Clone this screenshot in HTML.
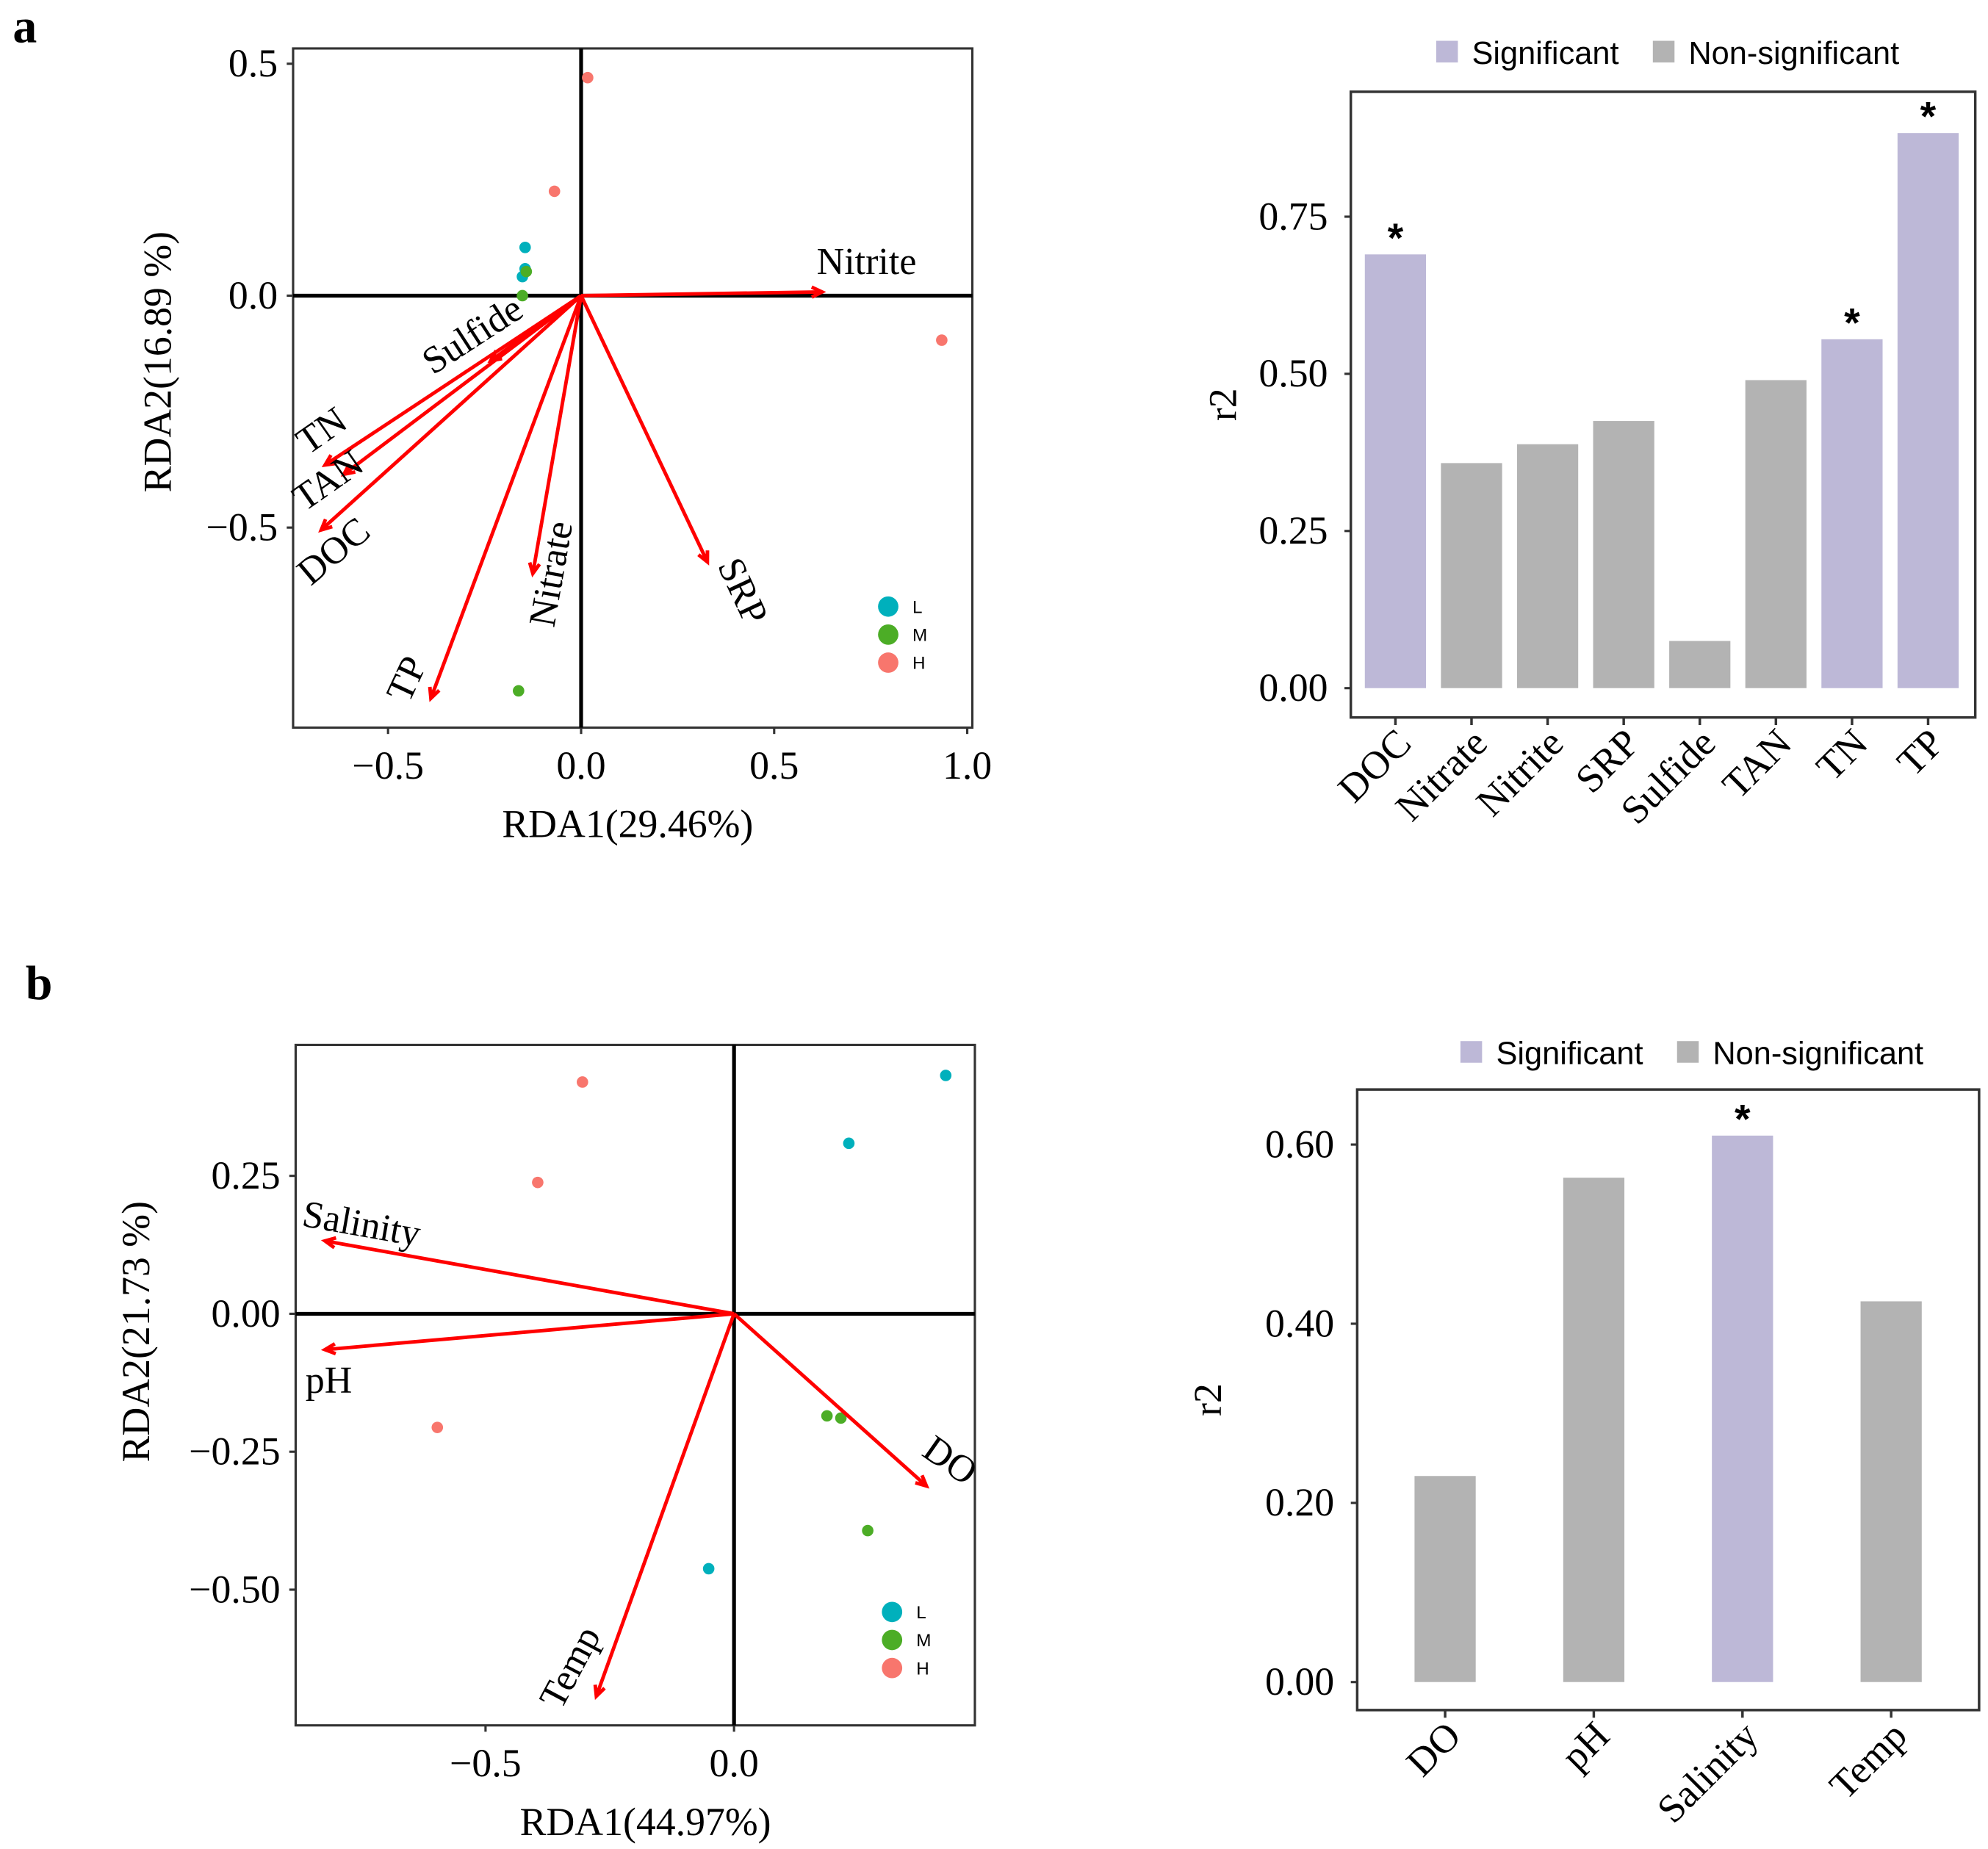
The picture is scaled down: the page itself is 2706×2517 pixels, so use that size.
<!DOCTYPE html>
<html><head><meta charset="utf-8"><style>
html,body{margin:0;padding:0;background:#fff}
svg{display:block}
.serif{font-family:"Liberation Serif",serif}
.sans{font-family:"Liberation Sans",sans-serif}
</style></head><body>
<svg id="fig" xmlns="http://www.w3.org/2000/svg" width="2706" height="2517" viewBox="0 0 1560 1451">
<text class="serif" x="10" y="33" font-size="38" font-weight="bold">a</text>
<text class="serif" x="20" y="784" font-size="38" font-weight="bold">b</text>
</svg>
<script>
// ---- Panel a RDA data ----
const aPointsX = [0.017,-0.069,0.934,-0.145,-0.145,-0.152,-0.142,-0.152,-0.162];
const aPointsY = [0.47,0.225,-0.096,0.104,0.058,0.041,0.052,0.0,-0.852];
const aPointsG = ['H','H','H','L','L','L','M','M','M'];
const aArrowNames = ['Nitrite','Sulfide','TN','TAN','DOC','TP','Nitrate','SRP'];
const aArrowX = [0.624,-0.234,-0.663,-0.614,-0.673,-0.389,-0.125,0.327];
const aArrowY = [0.008,-0.14,-0.365,-0.385,-0.505,-0.868,-0.599,-0.574];
const aXTicks = [-0.5,0.0,0.5,1.0];
const aXTickLabels = ['\u22120.5','0.0','0.5','1.0'];
const aYTicks = [0.5,0.0,-0.5];
const aYTickLabels = ['0.5','0.0','\u22120.5'];
// ---- Panel a bar data ----
const aBarCats = ['DOC','Nitrate','Nitrite','SRP','Sulfide','TAN','TN','TP'];
const aBarVals = [0.69,0.358,0.388,0.425,0.075,0.49,0.555,0.883];
const aBarSig = [true,false,false,false,false,false,true,true];
const aBarTicks = [0,0.25,0.5,0.75];
const aBarTickLabels = ['0.00','0.25','0.50','0.75'];
// ---- Panel b RDA data ----
const bPointsX = [-0.305,-0.395,-0.597,0.426,0.231,-0.051,0.187,0.215,0.269];
const bPointsY = [0.42,0.238,-0.206,0.432,0.309,-0.462,-0.185,-0.189,-0.393];
const bPointsG = ['H','H','H','L','L','L','M','M','M'];
const bArrowNames = ['Salinity','pH','DO','Temp'];
const bArrowX = [-0.823,-0.823,0.387,-0.277];
const bArrowY = [0.132,-0.065,-0.312,-0.693];
const bXTicks = [-0.5,0.0];
const bXTickLabels = ['\u22120.5','0.0'];
const bYTicks = [0.25,0,-0.25,-0.5];
const bYTickLabels = ['0.25','0.00','\u22120.25','\u22120.50'];
// ---- Panel b bar data ----
const bBarCats = ['DO','pH','Salinity','Temp'];
const bBarVals = [0.23,0.563,0.61,0.425];
const bBarSig = [false,false,true,false];
const bBarTicks = [0,0.2,0.4,0.6];
const bBarTickLabels = ['0.00','0.20','0.40','0.60'];

const NS='http://www.w3.org/2000/svg';
const svg=document.getElementById('fig');
const COL={L:'#00b0bc',M:'#4cad26',H:'#f8766d'};
function mk(tag,attrs,parent){const e=document.createElementNS(NS,tag);for(const k in attrs)e.setAttribute(k,attrs[k]);(parent||svg).appendChild(e);return e;}
function txt(s,attrs,parent){const e=mk('text',attrs,parent);e.textContent=s;return e;}

function rda(cfg){
  const g=mk('g',{});
  
  
  const sx=v=>cfg.ox+v*cfg.kx, sy=v=>cfg.oy-v*cfg.ky;
  const box=mk('rect',{x:cfg.x0,y:cfg.y0,width:cfg.x1-cfg.x0,height:cfg.y1-cfg.y0,fill:'none',stroke:'#333','stroke-width':1.8},g);
  
  
  const vl=mk('line',{x1:sx(0),x2:sx(0),y1:cfg.y0,y2:cfg.y1,stroke:'#000','stroke-width':3},g);
  
  
  const hl=mk('line',{x1:cfg.x0,x2:cfg.x1,y1:sy(0),y2:sy(0),stroke:'#000','stroke-width':3},g);
  
  
  cfg.xt.forEach((t,i)=>{
    mk('line',{x1:sx(t),x2:sx(t),y1:cfg.y1,y2:cfg.y1+5,stroke:'#333','stroke-width':1.8},g);
    const l=txt(cfg.xtl[i],{x:sx(t),y:cfg.y1+40,'font-size':31,'text-anchor':'middle',class:'serif'},g);
    
    
  });
  cfg.yt.forEach((t,i)=>{
    mk('line',{x1:cfg.x0-5,x2:cfg.x0,y1:sy(t),y2:sy(t),stroke:'#333','stroke-width':1.8},g);
    const l=txt(cfg.ytl[i],{x:cfg.x0-12,y:sy(t)+10,'font-size':31,'text-anchor':'end',class:'serif'},g);
    
    
  });
  const xl=txt(cfg.xlabel,{x:(cfg.x0+cfg.x1)/2-(cfg.xlo||0),y:cfg.y1+86,'font-size':31,'text-anchor':'middle',class:'serif'},g);
  
  
  const yl=txt(cfg.ylabel,{x:0,y:0,'font-size':31,'text-anchor':'middle',class:'serif',transform:`translate(${cfg.ylx},${cfg.yly}) rotate(-90)`},g);
  
  
  cfg.px.forEach((v,i)=>{
    const c=mk('circle',{cx:sx(v),cy:sy(cfg.py[i]),r:4.5,fill:COL[cfg.pg[i]]},g);
    
    
  });
  cfg.an.forEach((n,i)=>{
    const x2=sx(cfg.ax[i]),y2=sy(cfg.ay[i]),x1=sx(0),y1=sy(0);
    const ang=Math.atan2(y2-y1,x2-x1),h=9;
    const ag=mk('g',{},g);
    
    
    mk('line',{x1,y1,x2,y2,stroke:'#ff0000','stroke-width':2.8},ag);
    const a1=ang+Math.PI-0.45,a2=ang+Math.PI+0.45;
    mk('polyline',{points:`${x2+h*Math.cos(a1)},${y2+h*Math.sin(a1)} ${x2},${y2} ${x2+h*Math.cos(a2)},${y2+h*Math.sin(a2)}`,fill:'none',stroke:'#ff0000','stroke-width':2.8},ag);
    const L=cfg.labels[i];
    const t=txt(n,{x:0,y:0,'font-size':30,'text-anchor':'middle',class:'serif',transform:`translate(${L[0]},${L[1]}) rotate(${L[2]})`},ag);
    
    
  });
  ['L','M','H'].forEach((k,i)=>{
    const y=cfg.legY+i*22;
    const c=mk('circle',{cx:cfg.legX,cy:y,r:8,fill:COL[k]},g);
    
    
    const t=txt(k,{x:cfg.legX+19,y:y+5,'font-size':14,class:'sans'},g);
    
    
  });
}

function bars(cfg){
  const g=mk('g',{});
  
  
  const sy=v=>cfg.zy-v*cfg.ky;
  const box=mk('rect',{x:cfg.x0,y:cfg.y0,width:cfg.x1-cfg.x0,height:cfg.y1-cfg.y0,fill:'none',stroke:'#333','stroke-width':2},g);
  
  
  cfg.yt.forEach((t,i)=>{
    mk('line',{x1:cfg.x0-5,x2:cfg.x0,y1:sy(t),y2:sy(t),stroke:'#333','stroke-width':1.8},g);
    const l=txt(cfg.ytl[i],{x:cfg.x0-18,y:sy(t)+10,'font-size':31,'text-anchor':'end',class:'serif'},g);
    
    
  });
  const n=cfg.cats.length, step=(cfg.c1-cfg.c0)/(n-1), bw=cfg.bw;
  cfg.cats.forEach((c,i)=>{
    const cx=cfg.c0+step*i;
    const b=mk('rect',{x:cx-bw/2,y:sy(cfg.vals[i]),width:bw,height:sy(0)-sy(cfg.vals[i]),fill:cfg.sig[i]?'#bdb8d7':'#b3b3b3'},g);
    
    
    if(cfg.sig[i]){
      const s=txt('*',{x:cx,y:sy(cfg.vals[i])-2,'font-size':32,'font-weight':'bold','text-anchor':'middle',class:'sans'},g);
      
      
    }
    mk('line',{x1:cx,x2:cx,y1:cfg.y1,y2:cfg.y1+6,stroke:'#333','stroke-width':2},g);
    const l=txt(c,{x:0,y:0,'font-size':31,'text-anchor':'end',class:'serif',transform:`translate(${cx+14},${cfg.y1+22}) rotate(-45)`},g);
    
    
  });
  const yl=txt('r2',{x:0,y:0,'font-size':31,'text-anchor':'middle',class:'serif',transform:`translate(${cfg.ylx},${(cfg.y0+cfg.y1)/2}) rotate(-90)`},g);
  
  
  const lg=mk('g',{},g);
  
  
  const ly=cfg.legY;
  const s1=mk('rect',{x:cfg.legX,y:ly-9,width:17,height:17,fill:'#bdb8d7'},lg);
  
  
  const t1=txt('Significant',{x:cfg.legX+28,y:ly+9,'font-size':25,class:'sans'},lg);
  
  
  const s2=mk('rect',{x:cfg.legX+170,y:ly-9,width:17,height:17,fill:'#b3b3b3'},lg);
  
  
  const t2=txt('Non-significant',{x:cfg.legX+198,y:ly+9,'font-size':25,class:'sans'},lg);
  
  
}

rda({name:'rda-plot-a',x0:230,x1:763,y0:38,y1:571,ox:456,oy:232,kx:303,ky:364,
  xt:aXTicks,xtl:aXTickLabels,yt:aYTicks,ytl:aYTickLabels,
  xlabel:'RDA1(29.46%)',xlo:4,ylabel:'RDA2(16.89 %)',ylx:134,yly:284,
  px:aPointsX,py:aPointsY,pg:aPointsG,an:aArrowNames,ax:aArrowX,ay:aArrowY,
  labels:[[680,215,0],[376,271,-33],[258,346,-35],[263,385,-35],[268,440,-40],[328,537,-65],[442,452,-80],[574,468,65]],
  legX:697,legY:476});
bars({name:'bar-chart-a',x0:1060,x1:1550,y0:72,y1:563,zy:540,ky:493.3,c0:1095,c1:1513,bw:48,
  cats:aBarCats,vals:aBarVals,sig:aBarSig,yt:aBarTicks,ytl:aBarTickLabels,ylx:970,legX:1127,legY:41});
rda({name:'rda-plot-b',x0:232,x1:765,y0:820,y1:1354,ox:576,oy:1031,kx:390,ky:433,
  xt:bXTicks,xtl:bXTickLabels,yt:bYTicks,ytl:bYTickLabels,
  xlabel:'RDA1(44.97%)',xlo:-8,ylabel:'RDA2(21.73 %)',ylx:117,yly:1045,
  px:bPointsX,py:bPointsY,pg:bPointsG,an:bArrowNames,ax:bArrowX,ay:bArrowY,
  labels:[[282,970,10],[258,1093,0],[740,1154,35],[456,1313,-62]],
  legX:700,legY:1265});
bars({name:'bar-chart-b',x0:1065,x1:1553,y0:855,y1:1342,zy:1320,ky:703,c0:1134,c1:1484,bw:48,
  cats:bBarCats,vals:bBarVals,sig:bBarSig,yt:bBarTicks,ytl:bBarTickLabels,ylx:958,legX:1146,legY:826});
</script>
</body></html>
